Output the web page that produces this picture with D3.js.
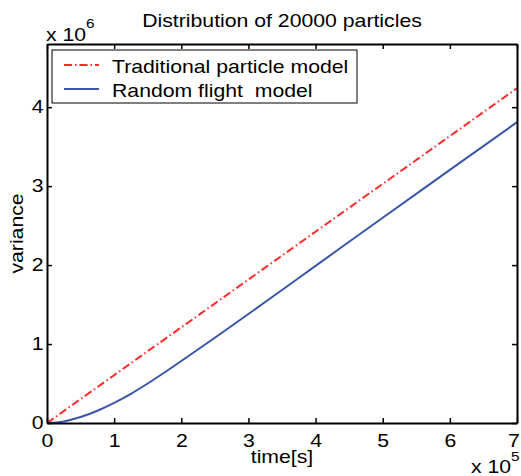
<!DOCTYPE html>
<html>
<head>
<meta charset="utf-8">
<script src="https://cdn.jsdelivr.net/npm/d3@7"></script>
<style>
  body { margin: 0; background: #fff; }
  text { font-family: Arial, "Liberation Sans", sans-serif; fill: #000; }
</style>
</head>
<body>
<div id="chart"></div>
<script>
// time in units of 1e5 s, variance in units of 1e6
var timeTicks = [0, 1, 2, 3, 4, 5, 6, 7];
var varTicks = [0, 1, 2, 3, 4];

var tradTime = [0, 7];
var tradVar = [0, 4.24];

var randTime = [0, 0.25, 0.5, 0.75, 1, 1.25, 1.5, 1.75, 2, 2.5, 3, 3.5, 4, 5, 6, 7];
var randVar = [0, 0.02, 0.075, 0.155, 0.255, 0.37, 0.5, 0.64, 0.785, 1.08, 1.38, 1.685, 1.99, 2.6, 3.205, 3.81];

var margin = {top: 44, right: 4, bottom: 53, left: 47};
var width = 521 - margin.left - margin.right;
var height = 476 - margin.top - margin.bottom;

// the original text is a bit wide, so stretch it horizontally
var sx = 1.18;
var fs = '18px';

var svg = d3.select('#chart')
  .append('svg')
    .attr('width', 521)
    .attr('height', 476)
  .append('g')
    .attr('transform', 'translate(' + margin.left + ',' + margin.top + ')');

function label(parent, px, py, anchor, size, str) {
  return parent.append('text')
    .attr('transform', 'translate(' + px + ',' + py + ')scale(' + sx + ',1)')
    .style('text-anchor', anchor)
    .style('font-size', size)
    .attr('xml:space', 'preserve')
    .text(str);
}

var x = d3.scaleLinear().domain([0, 7]).range([0, width]);
var y = d3.scaleLinear().domain([0, 4.8]).range([height, 0]);

var line = d3.line()
  .x(function(d) { return x(d[0]); })
  .y(function(d) { return y(d[1]); });

svg.append('path')
  .datum(d3.zip(tradTime, tradVar))
  .attr('d', line)
  .attr('fill', 'none')
  .attr('stroke', '#ff2a2a')
  .attr('stroke-width', 2)
  .attr('stroke-dasharray', '8,3,1.5,3');

svg.append('path')
  .datum(d3.zip(randTime, randVar))
  .attr('d', d3.line().curve(d3.curveMonotoneX)
    .x(function(d) { return x(d[0]); })
    .y(function(d) { return y(d[1]); }))
  .attr('fill', 'none')
  .attr('stroke', '#3b55a8')
  .attr('stroke-width', 2);

// axes, matlab style: ticks inward on all sides
var fmt = d3.format('d');
var xb = svg.append('g').attr('transform', 'translate(0,' + height + ')')
  .call(d3.axisBottom(x).tickValues(timeTicks).tickSizeInner(-5).tickSizeOuter(0).tickPadding(11).tickFormat(fmt));
var xt = svg.append('g')
  .call(d3.axisTop(x).tickValues(timeTicks).tickSizeInner(-5).tickSizeOuter(0).tickFormat(''));
var yl = svg.append('g')
  .call(d3.axisLeft(y).tickValues(varTicks).tickSizeInner(-5).tickSizeOuter(0).tickPadding(3).tickFormat(fmt));
var yr = svg.append('g').attr('transform', 'translate(' + width + ',0)')
  .call(d3.axisRight(y).tickValues(varTicks).tickSizeInner(-5).tickSizeOuter(0).tickFormat(''));

[xb, xt, yl, yr].forEach(function(a) {
  a.select('.domain').attr('stroke', '#000').attr('stroke-width', 2);
  a.selectAll('.tick line').attr('stroke', '#000').attr('stroke-width', 1.5);
  a.selectAll('.tick text')
    .style('font-size', fs)
    .style('font-family', 'Arial, "Liberation Sans", sans-serif')
    .attr('fill', '#000')
    .attr('transform', 'scale(' + sx + ',1)');
});
// keep the last x label inside the window
xb.selectAll('.tick text').filter(function(d) { return d === 7; }).attr('dx', -3);

// legend
var lg = svg.append('g').attr('transform', 'translate(5,6)');
lg.append('rect')
  .attr('width', 305).attr('height', 53)
  .attr('fill', '#fff').attr('stroke', '#000').attr('stroke-width', 1);
var legendLabels = ['Traditional particle model', 'Random flight  model'];
var legendColors = ['#ff2a2a', '#3b55a8'];
var legendDash = ['8,3,1.5,3', null];
legendLabels.forEach(function(lab, i) {
  var yy = 15 + i * 24;
  lg.append('line')
    .attr('x1', 12).attr('x2', 47).attr('y1', yy).attr('y2', yy)
    .attr('stroke', legendColors[i]).attr('stroke-width', 2)
    .attr('stroke-dasharray', legendDash[i]);
  label(lg, 60, yy + 8, 'start', fs, lab);
});

// title and labels
label(svg, width / 2, -17, 'middle', fs, 'Distribution of 20000 particles');
label(svg, width / 2, height + 40, 'middle', fs, 'time[s]');

svg.append('text')
  .attr('transform', 'translate(-24,' + (height / 2) + ')rotate(-90)scale(' + sx + ',1)')
  .style('text-anchor', 'middle').style('font-size', fs)
  .text('variance');

var e6 = label(svg, -1, -3, 'start', fs, '');
e6.append('tspan').text('x 10');
e6.append('tspan').attr('dy', -13).style('font-size', '13px').text('6');

var e5 = label(svg, width - 46, height + 50, 'start', fs, '');
e5.append('tspan').text('x 10');
e5.append('tspan').attr('dy', -12).style('font-size', '13px').text('5');
</script>
</body>
</html>
